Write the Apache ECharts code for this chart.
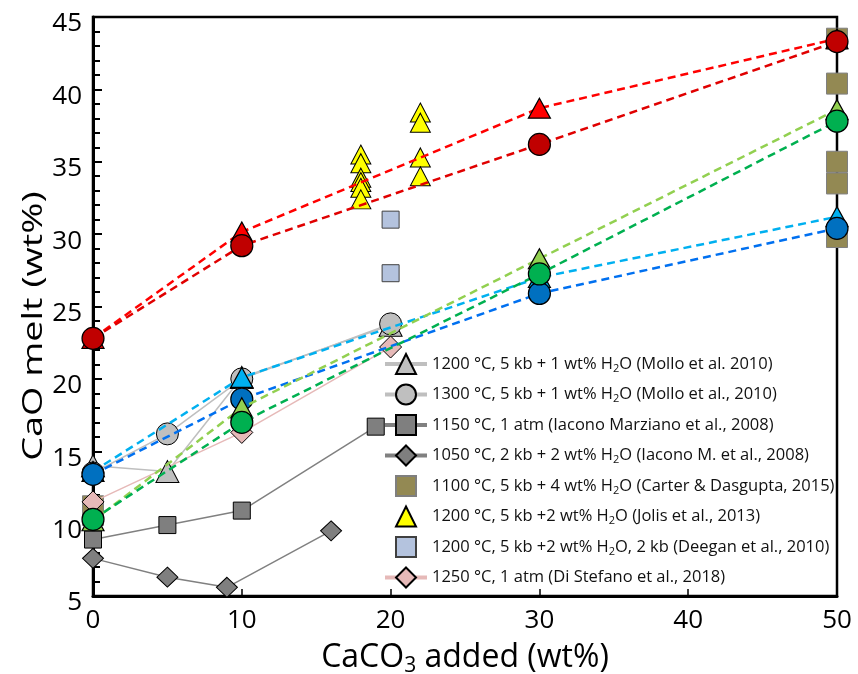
<!DOCTYPE html>
<html>
<head>
<meta charset="utf-8">
<script src="https://cdn.jsdelivr.net/npm/echarts@6/dist/echarts.min.js"></script>
<style>
  html, body { margin: 0; padding: 0; background: #fff; }
  #chart { width: 858px; height: 674px; }
</style>
</head>
<body>
<div id="chart"></div>
<script>
// CaCO3 added (wt%) against CaO in the melt (wt%) for each experimental set
const molloTriX = [0, 5, 10, 20];
const molloTriY = [14.0, 13.6, 20.1, 23.7];
const molloCirX = [0, 5, 10, 20];
const molloCirY = [13.5, 16.2, 20.0, 23.8];
const iaconoSqX = [0, 5, 10, 19];
const iaconoSqY = [8.9, 9.9, 10.9, 16.7];
const iaconoDiX = [0, 5, 9, 16];
const iaconoDiY = [7.6, 6.3, 5.6, 9.5];
const carterX = [0, 0, 50, 50, 50, 50, 50];
const carterY = [11.2, 10.6, 43.5, 40.4, 35.0, 33.5, 29.8];
const jolisX = [18, 18, 18, 18, 18, 18, 22, 22, 22, 22];
const jolisY = [35.5, 34.9, 33.9, 33.6, 33.2, 32.4, 38.4, 37.7, 35.3, 34.0];
const deeganX = [20, 20];
const deeganY = [31.0, 27.3];
const diStefanoX = [0, 10, 20];
const diStefanoY = [11.5, 16.3, 22.2];

// dashed trend sets (not in the legend)
const trendX = [0, 10, 30, 50];
const redTriY = [22.8, 30.15, 38.7, 43.5];
const redCirY = [22.8, 29.2, 36.2, 43.3];
const limeTriY = [10.2, 18.0, 28.3, 38.6];
const greenCirY = [10.3, 17.0, 27.25, 37.8];
const cyanTriY = [13.6, 20.1, 27.0, 31.2];
const blueCirY = [13.4, 18.6, 25.9, 30.4];

const xTickValues = [0, 10, 20, 30, 40, 50];
const yTickValues = [5, 10, 15, 20, 25, 30, 35, 40, 45];

const names = {
  molloTri: '1200 °C, 5 kb + 1 wt% H2O (Mollo et al. 2010)',
  molloCir: '1300 °C, 5 kb + 1 wt% H2O (Mollo et al., 2010)',
  iaconoSq: '1150 °C, 1 atm (Iacono Marziano et al., 2008)',
  iaconoDi: '1050 °C, 2 kb + 2 wt% H2O (Iacono M. et al., 2008)',
  carter: '1100 °C, 5 kb + 4 wt% H2O (Carter & Dasgupta, 2015)',
  jolis: '1200 °C, 5 kb +2 wt% H2O (Jolis et al., 2013)',
  deegan: '1200 °C, 5 kb +2 wt% H2O, 2 kb (Deegan et al., 2010)',
  diStefano: '1250 °C, 1 atm (Di Stefano et al., 2018)'
};

const FONT = 'Open Sans';
const zip = (xs, ys) => xs.map((x, i) => [x, ys[i]]);

function solidSeries(name, xs, ys, symbol, size, fill, lineColor, z) {
  return {
    name, type: 'line', data: zip(xs, ys), symbol, symbolSize: size,
    clip: false, z,
    lineStyle: { color: lineColor, width: 1.5 },
    itemStyle: { color: fill, borderColor: '#000', borderWidth: 1 }
  };
}
function markerSeries(name, xs, ys, symbol, size, fill, border, z) {
  return {
    name, type: 'line', data: zip(xs, ys), symbol, symbolSize: size,
    clip: false, z,
    lineStyle: { opacity: 0, width: 0 },
    itemStyle: { color: fill, borderColor: border, borderWidth: 1 }
  };
}
function dashedSeries(name, ys, symbol, size, fill, lineColor, z) {
  return {
    name, type: 'line', data: zip(trendX, ys), symbol, symbolSize: size,
    clip: false, z,
    lineStyle: { color: lineColor, width: 2.5, type: [8, 5] },
    itemStyle: { color: fill, borderColor: '#000', borderWidth: 1.2 }
  };
}

const series = [
  solidSeries(names.iaconoDi, iaconoDiX, iaconoDiY, 'diamond', [21, 20], '#7F7F7F', '#808080', 2),
  solidSeries(names.iaconoSq, iaconoSqX, iaconoSqY, 'rect', 17, '#7F7F7F', '#808080', 2),
  markerSeries(names.carter, carterX, carterY, 'rect', 21, '#938953', '#7F7F7F', 2),
  solidSeries(names.molloTri, molloTriX, molloTriY, 'triangle', [23, 22], '#BFBFBF', '#BFBFBF', 3),
  solidSeries(names.molloCir, molloCirX, molloCirY, 'circle', 22, '#BFBFBF', '#BFBFBF', 3),
  solidSeries(names.diStefano, diStefanoX, diStefanoY, 'diamond', [22, 22], '#E6B9B8', '#E6B9B8', 3),
  markerSeries(names.deegan, deeganX, deeganY, 'rect', 17, '#B4C3DE', '#404040', 3),
  markerSeries(names.jolis, jolisX, jolisY, 'triangle', [20, 19], '#FFFF00', '#000', 4),
  dashedSeries('trend-red-tri', redTriY, 'triangle', [22, 20], '#FF0000', '#FF0000', 5),
  dashedSeries('trend-red-cir', redCirY, 'circle', 22, '#C00000', '#E00000', 6),
  dashedSeries('trend-cyan-tri', cyanTriY, 'triangle', [22, 20], '#00B0F0', '#00B0F0', 5),
  dashedSeries('trend-blue-cir', blueCirY, 'circle', 22, '#0070C0', '#0070F0', 6),
  dashedSeries('trend-lime-tri', limeTriY, 'triangle', [22, 20], '#92D050', '#92D050', 7),
  dashedSeries('trend-green-cir', greenCirY, 'circle', 22, '#00B050', '#00B050', 8)
];

const legendData = [
  { name: names.molloTri, lineStyle: { width: 4, color: '#BFBFBF' } },
  { name: names.molloCir, lineStyle: { width: 4, color: '#BFBFBF' } },
  { name: names.iaconoSq, lineStyle: { width: 4, color: '#808080' } },
  { name: names.iaconoDi, lineStyle: { width: 4, color: '#808080' } },
  { name: names.carter, lineStyle: { opacity: 0 } },
  { name: names.jolis, lineStyle: { opacity: 0 } },
  { name: names.deegan, lineStyle: { opacity: 0 } },
  { name: names.diStefano, lineStyle: { width: 4, color: '#E6B9B8' } }
];

const chart = echarts.init(document.getElementById('chart'), null, { renderer: 'canvas' });
chart.setOption({
  animation: false,
  backgroundColor: '#fff',
  grid: {
    left: 93, right: 21, top: 17, bottom: 78,
    outerBoundsMode: 'none', containLabel: false,
    show: true, borderColor: '#000', borderWidth: 2.5, backgroundColor: 'transparent'
  },
  legend: {
    orient: 'vertical', left: 383, top: 353, padding: 0,
    itemWidth: 42, itemHeight: 25, itemGap: 8.5,
    data: legendData,
    formatter: n => n.replace('H2O', 'H{sub|2}O'),
    textStyle: {
      fontFamily: FONT, fontSize: 16.5, color: '#111', lineHeight: 20,
      rich: { sub: { fontFamily: FONT, fontSize: 11, color: '#111', lineHeight: 10, verticalAlign: 'bottom' } }
    }
  },
  // y-axis title, drawn as wide lettering
  graphic: [{
    type: 'text', x: 34, y: 326, rotation: Math.PI / 2, scaleX: 1.4, scaleY: 1,
    style: {
      text: 'CaO melt (wt%)', fontFamily: FONT, fontSize: 27, fill: '#000',
      align: 'center', verticalAlign: 'middle'
    }
  }],
  xAxis: {
    type: 'value', min: 0, max: 50, interval: 10,
    name: 'CaCO{sub|3} added (wt%)', nameLocation: 'middle', nameGap: 18,
    nameTextStyle: {
      fontFamily: FONT, fontSize: 32, color: '#000', lineHeight: 38,
      rich: { sub: { fontFamily: FONT, fontSize: 21, color: '#000', lineHeight: 20, verticalAlign: 'bottom' } }
    },
    axisLine: { onZero: false, lineStyle: { color: '#000', width: 3 } },
    axisTick: { inside: true, length: 7, lineStyle: { color: '#000', width: 1.5 } },
    axisLabel: {
      fontFamily: FONT, fontSize: 26, color: '#000', margin: 12,
      formatter: v => xTickValues.includes(v) ? String(v) : ''
    },
    splitLine: { show: false }
  },
  yAxis: {
    type: 'value', min: 5, max: 45, interval: 5,
    axisLine: { onZero: false, lineStyle: { color: '#000', width: 3 } },
    axisTick: { inside: true, length: 9, lineStyle: { color: '#000', width: 2 } },
    minorTick: { show: true, splitNumber: 5, length: 7, lineStyle: { color: '#000', width: 2 } },
    axisLabel: {
      fontFamily: FONT, fontSize: 26, color: '#000', margin: 11,
      verticalAlign: 'top', lineHeight: 14,
      formatter: v => yTickValues.includes(v) ? String(v) : ''
    },
    splitLine: { show: false }
  },
  series
});
</script>
</body>
</html>
